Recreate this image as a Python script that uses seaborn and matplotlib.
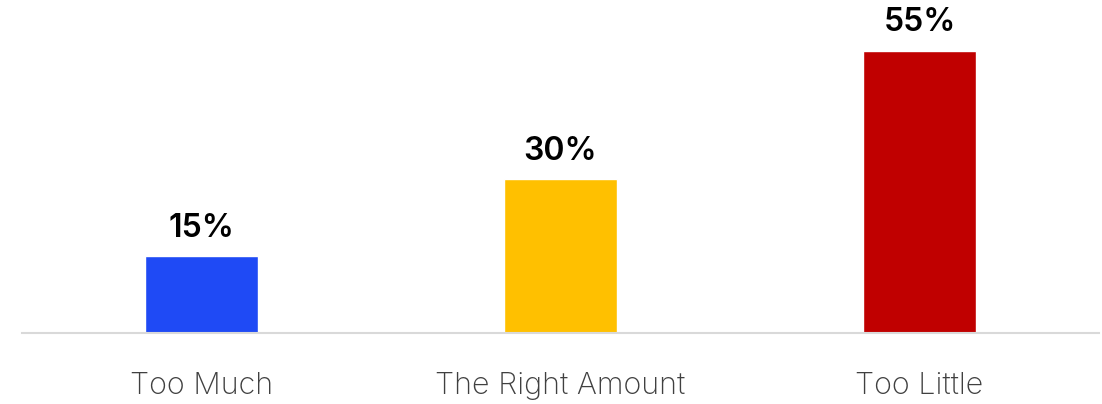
import matplotlib
matplotlib.use("Agg")
import matplotlib.pyplot as plt
import seaborn as sns
import pandas as pd

categories = ["Too Much", "The Right Amount", "Too Little"]
values = [15, 30, 55]
colors = ["#1f4af5", "#ffc000", "#c00000"]

sns.set_style("white")
plt.rcParams["font.family"] = ["Inter", "DejaVu Sans"]

df = pd.DataFrame({"category": categories, "value": values})

fig = plt.figure(figsize=(11.02, 4.04), dpi=100)
ax = fig.add_axes([22 / 1102, 71 / 404, 1077 / 1102, 333 / 404])

sns.barplot(data=df, x="category", y="value", hue="category", palette=colors,
            width=113 / 359, legend=False, saturation=1, ax=ax, order=categories)

ax.set_xlim(-0.5, 2.5)
ax.set_ylim(0, 55 * 333 / 282)
ax.set_xlabel("")
ax.set_ylabel("")
ax.set_yticks([])
for s in ["top", "right", "left"]:
    ax.spines[s].set_visible(False)
ax.spines["bottom"].set_color("#d9d9d9")
ax.spines["bottom"].set_linewidth(1.5)
ax.tick_params(axis="x", length=0, pad=28, labelsize=22, labelcolor="#404040")
for lab in ax.get_xticklabels():
    lab.set_fontweight("light")

for i, v in enumerate(values):
    ax.annotate(f"{v}%", xy=(i, v), xytext=(0, 9), textcoords="offset points",
                ha="center", va="bottom", fontsize=23, fontweight="semibold",
                color="#000000")

fig.savefig("out.png", dpi=100)
